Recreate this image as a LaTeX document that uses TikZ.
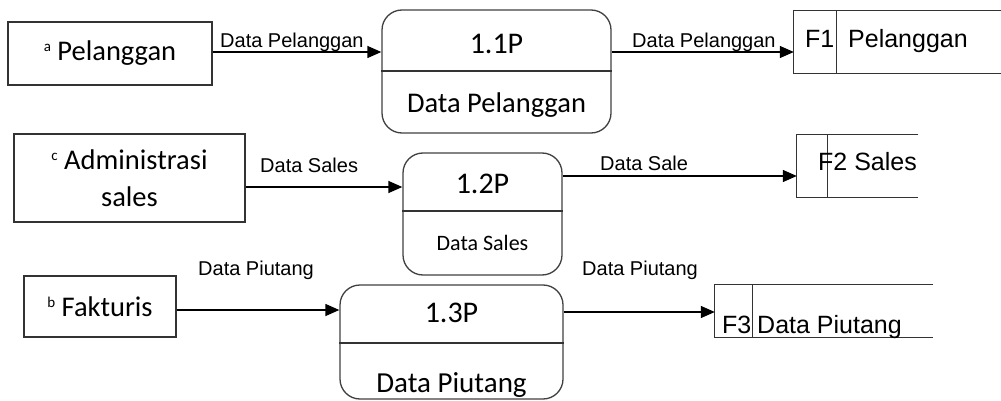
\documentclass[tikz,border=0pt]{standalone}
\usepackage{fontspec}
\setmainfont{Carlito}
\newfontfamily\arialfont{Liberation Sans}
\usetikzlibrary{arrows.meta}
\newcommand{\entid}[1]{\raisebox{9pt}{\fontsize{15}{15}\selectfont #1}}
\tikzset{
	entity/.style = {draw=black!80, line width=1.3pt, inner sep=0pt, align=center, font=\fontsize{28.5}{37}\selectfont},
	proc/.style = {draw=black!75, line width=1.3pt, rounded corners=20pt, inner sep=0pt},
	ptxt/.style = {inner sep=0pt, anchor=base},
	store/.style = {inner sep=0pt},
	storeline/.style = {draw=black!80, line width=1.3pt},
	stxt/.style = {font=\arialfont\fontsize{25}{30}\selectfont, inner sep=0pt, anchor=base west},
	lbl/.style = {font=\arialfont\fontsize{20}{24}\selectfont, inner sep=0pt, anchor=base west},
	flow/.style = {line width=1.3pt, -{Triangle[length=14pt,width=12pt]}}
}
\begin{document}
\begin{tikzpicture}[x=1pt, y=-1pt]
		\useasboundingbox (0,0) rectangle (1001,401);
		% external entities
		\node[entity, minimum width=204pt, minimum height=63pt] (pel) at (110,53.5) {\entid{a} Pelanggan};
		\node[entity, minimum width=231pt, minimum height=88pt] (adm) at (129.5,178) {\entid{c} Administrasi\\sales};
		\node[entity, minimum width=152pt, minimum height=61pt] (fak) at (100,306.5) {\entid{b} Fakturis};
		% processes
		\foreach \id/\cx/\cy/\w/\h/\dv/\ttl/\tb/\body/\bb/\fs in {11/496.5/71.5/229/123/71/1.1P/54/Data Pelanggan/113/28.5, 12/482.5/214/159/122/211/1.2P/193/Data Sales/250/22, 13/451.5/342/223/114/343/1.3P/322/Data Piutang/392/29}{
				\node[proc, minimum width=\w pt, minimum height=\h pt] (p\id) at (\cx,\cy) {};
				\draw[storeline] (p\id.west |- 0,\dv) -- (p\id.east |- 0,\dv);
				\node[ptxt, font=\fontsize{30}{32}\selectfont] (p\id t) at (\cx,\tb) {\ttl};
				\node[ptxt, font=\fontsize{\fs}{32}\selectfont] (p\id b) at (\cx,\bb) {\body};
			}
		% data stores
		\foreach \id/\cx/\cy/\w/\h/\dv in {1/897.5/42/207/62/43, 2/857.5/166/121/62/31, 3/824/311/218/52/38}{
				\node[store, minimum width=\w pt, minimum height=\h pt] (f\id) at (\cx,\cy) {};
				\draw[storeline] (f\id.north east) -- (f\id.north west) -- (f\id.south west) -- (f\id.south east);
				\draw[storeline] ([xshift=\dv pt]f\id.north west) -- ([xshift=\dv pt]f\id.south west);
			}
		\node[stxt] (f1id) at (805,48) {F1};
		\node[stxt] (f1nm) at (848,48) {Pelanggan};
		\node[stxt] (f2id) at (818,171) {F2 Sales};
		\node[stxt] (f3id) at (722,333) {F3};
		\node[stxt] (f3nm) at (757,333) {Data Piutang};
		% data flows
		\foreach \a/\b/\s in {pel/p11/1.5, p11/f1/19.5, adm/p12/-9, p12/f2/38, fak/p13/-3.5, p13/f3/30}{
				\draw[flow] ([yshift=\s pt]\a.east) -- ([yshift=\s pt]\a.east -| \b.west);
			}
		\node[lbl] (l1) at (220,48) {Data Pelanggan};
		\node[lbl] (l2) at (632,48) {Data Pelanggan};
		\node[lbl] (l3) at (260,172) {Data Sales};
		\node[lbl] (l4) at (600,171) {Data Sale};
		\node[lbl] (l5) at (198,275) {Data Piutang};
		\node[lbl] (l6) at (582,275) {Data Piutang};
	\end{tikzpicture}
\end{document}
